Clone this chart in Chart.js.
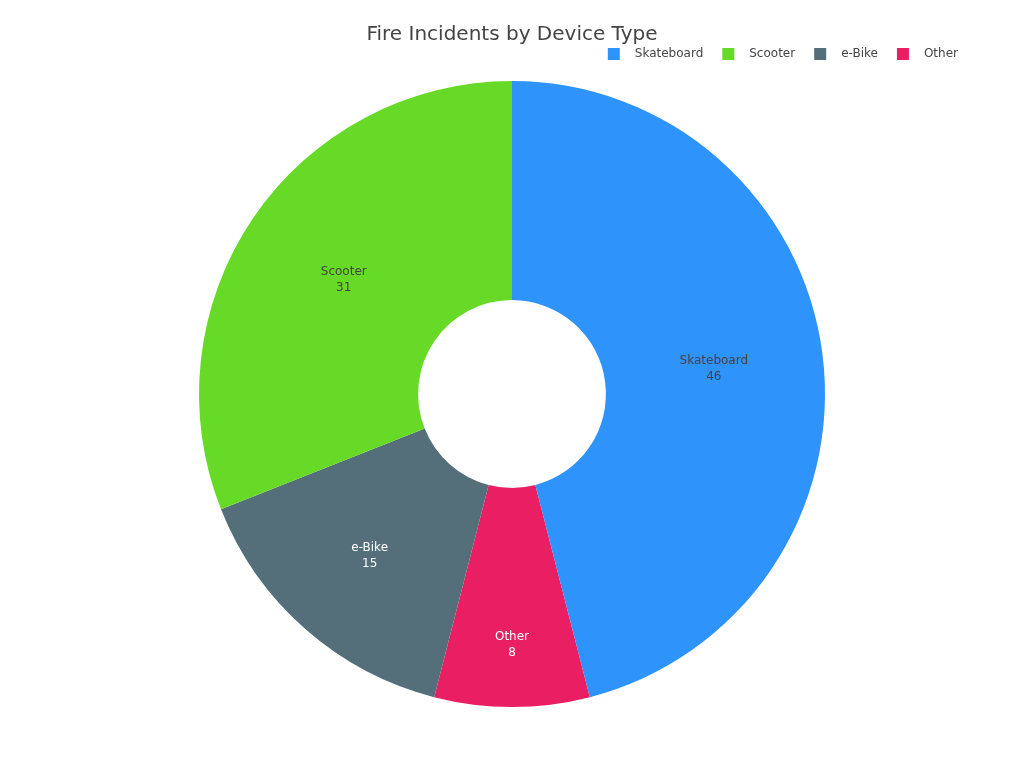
<!DOCTYPE html>
<html>
<head>
<meta charset="utf-8">
<title>Fire Incidents by Device Type</title>
<script src="https://cdn.jsdelivr.net/npm/chart.js@4.4.1/dist/chart.umd.min.js"></script>
<style>
  html, body { margin: 0; padding: 0; background: #fff; }
  #wrap { width: 1024px; height: 768px; }
</style>
</head>
<body>
<div id="wrap"><canvas id="myChart"></canvas></div>
<script>
// data, in legend order
const categories = ['Skateboard', 'Scooter', 'e-Bike', 'Other'];
const incidents = [46, 31, 15, 8];
const sliceColors = ['#2E93FA', '#66DA26', '#546E7A', '#E91E63'];

const textDark = '#444';
const holeFraction = 0.3;

// slices run counter-clockwise in the reference, so feed them reversed
// and start the first (last) one where Skateboard ends
const drawLabels = categories.slice().reverse();
const drawValues = incidents.slice().reverse();
const drawColors = sliceColors.slice().reverse();
const total = incidents.reduce((a, b) => a + b, 0);
const startRotation = 360 * incidents[0] / total;

Chart.defaults.font.family = "'DejaVu Sans', sans-serif";
Chart.defaults.color = textDark;

// legend swatch: 12px square with some air on each side
function makeSwatch(color) {
    const c = document.createElement('canvas');
    c.width = 30;
    c.height = 12;
    const g = c.getContext('2d');
    g.fillStyle = color;
    g.fillRect(9, 0, 12, 12);
    return c;
}
const swatches = drawColors.map(makeSwatch);

function isLight(hex) {
    const n = parseInt(hex.slice(1), 16);
    const r = (n >> 16) & 255, g = (n >> 8) & 255, b = n & 255;
    return (r * 299 + g * 587 + b * 114) / 1000 >= 128;
}

// name + value inside each slice, placed like an inscribed circle would be
const sliceLabels = {
    id: 'sliceLabels',
    afterDatasetsDraw(chart) {
        const ctx = chart.ctx;
        const meta = chart.getDatasetMeta(0);
        ctx.save();
        ctx.font = "12px 'DejaVu Sans', sans-serif";
        ctx.textAlign = 'center';
        ctx.textBaseline = 'middle';
        meta.data.forEach((arc, i) => {
            const p = arc.getProps(['x', 'y', 'startAngle', 'endAngle', 'innerRadius', 'outerRadius'], true);
            const half = Math.min((p.endAngle - p.startAngle) / 2, Math.PI / 2);
            const ring = 1 - p.innerRadius / p.outerRadius;
            const rIns = Math.min(1 / (1 + 1 / Math.sin(half)), ring / 2);
            const rc = (1 - rIns) * p.outerRadius;
            const mid = (p.startAngle + p.endAngle) / 2;
            const x = p.x + Math.cos(mid) * rc;
            const y = p.y + Math.sin(mid) * rc;
            ctx.fillStyle = isLight(drawColors[i]) ? textDark : '#fff';
            ctx.fillText(drawLabels[i], x, y - 8);
            ctx.fillText(String(drawValues[i]), x, y + 8);
        });
        ctx.restore();
    }
};

const myChartRef = document.getElementById('myChart').getContext('2d');

new Chart(myChartRef, {
    type: 'doughnut',
    data: {
        labels: drawLabels,
        datasets: [
            {
                label: 'Fire Incidents',
                data: drawValues,
                backgroundColor: drawColors,
                borderWidth: 0,
                hoverOffset: 0
            }
        ]
    },
    options: {
        responsive: true,
        maintainAspectRatio: false,
        animation: false,
        rotation: startRotation,
        cutout: (holeFraction * 100) + '%',
        radius: '96.6%',
        layout: {
            padding: { top: 0, bottom: 50, left: 56, right: 56 }
        },
        plugins: {
            title: {
                display: true,
                text: 'Fire Incidents by Device Type',
                color: textDark,
                font: { size: 20, weight: 'normal' },
                padding: { top: 22.5, bottom: -8.5 }
            },
            legend: {
                position: 'top',
                align: 'end',
                reverse: true,
                labels: {
                    usePointStyle: true,
                    pointStyleWidth: 30,
                    padding: 10,
                    color: textDark,
                    font: { size: 12 },
                    generateLabels(chart) {
                        const items = Chart.overrides.doughnut.plugins.legend.labels.generateLabels(chart);
                        items.forEach(it => { it.pointStyle = swatches[it.index]; });
                        return items;
                    }
                }
            },
            tooltip: { enabled: false }
        }
    },
    plugins: [sliceLabels]
});
</script>
</body>
</html>
